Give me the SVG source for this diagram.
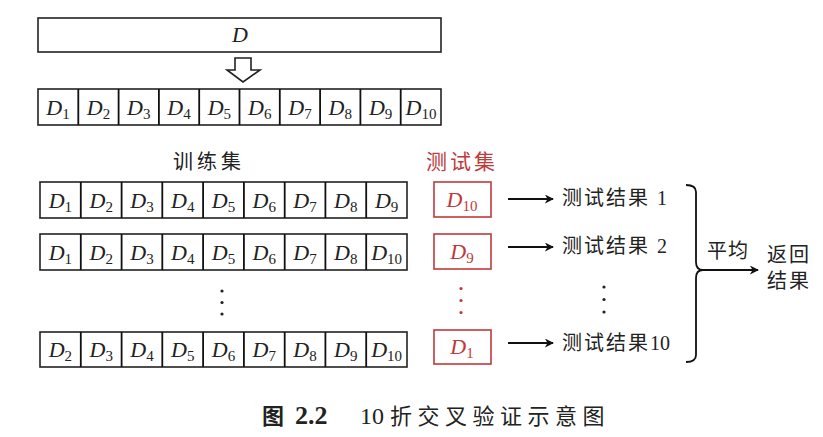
<svg xmlns="http://www.w3.org/2000/svg" width="823" height="437" viewBox="0 0 823 437">
<defs>
<style>
.box{fill:#fff;stroke:#222;stroke-width:1.6}
.rbox{fill:#fff;stroke:#c0393b;stroke-width:1.6}
.m{font-family:"Liberation Serif",serif;font-style:italic;font-size:22px;fill:#222}
.rm{font-family:"Liberation Serif",serif;font-style:italic;font-size:22px;fill:#c0393b}
.s{font-style:normal;font-size:15px}
.cn{font-family:"Liberation Serif","Noto Sans CJK SC",serif;font-size:20px;fill:#222}
.rcn{font-family:"Noto Sans CJK SC",sans-serif;font-size:21px;fill:#c0393b;letter-spacing:3px}
.cap{font-family:"Liberation Serif","Noto Sans CJK SC",serif;fill:#222}
.ln{stroke:#111;stroke-width:1.8;fill:none}
.dot{fill:#222}
.rdot{fill:#c0393b}
</style>
<marker id="ah" viewBox="0 0 10 10" refX="9" refY="5" markerWidth="9" markerHeight="9" markerUnits="userSpaceOnUse" orient="auto">
<path d="M0,0 L10,5 L0,10 L3,5 Z" fill="#111"/>
</marker>
</defs>

<g id="D-whole">
<rect class="box" x="38" y="18" width="403" height="34"/>
<text class="m" x="240" y="42" text-anchor="middle">D</text>
</g>

<g id="split-arrow">
<path d="M235,58 L251,58 L251,70 L260,70 L243,82 L227,70 L235,70 Z" fill="#fff" stroke="#222" stroke-width="1.6"/>
</g>

<g id="row-split">
<rect class="box" x="38" y="89" width="403" height="36"/>
<path class="ln" stroke-width="1.4" d="M78.3,89V125M118.6,89V125M158.9,89V125M199.2,89V125M239.5,89V125M279.8,89V125M320.1,89V125M360.4,89V125M400.7,89V125"/>
<text class="m" x="58" y="115" text-anchor="middle">D<tspan class="s" dy="4">1</tspan></text>
<text class="m" x="98.5" y="115" text-anchor="middle">D<tspan class="s" dy="4">2</tspan></text>
<text class="m" x="138.8" y="115" text-anchor="middle">D<tspan class="s" dy="4">3</tspan></text>
<text class="m" x="179" y="115" text-anchor="middle">D<tspan class="s" dy="4">4</tspan></text>
<text class="m" x="219.4" y="115" text-anchor="middle">D<tspan class="s" dy="4">5</tspan></text>
<text class="m" x="259.7" y="115" text-anchor="middle">D<tspan class="s" dy="4">6</tspan></text>
<text class="m" x="300" y="115" text-anchor="middle">D<tspan class="s" dy="4">7</tspan></text>
<text class="m" x="340.3" y="115" text-anchor="middle">D<tspan class="s" dy="4">8</tspan></text>
<text class="m" x="380.6" y="115" text-anchor="middle">D<tspan class="s" dy="4">9</tspan></text>
<text class="m" x="421" y="115" text-anchor="middle">D<tspan class="s" dy="4">10</tspan></text>
</g>

<g id="label-train">
<text class="cn" x="209" y="169" text-anchor="middle" font-size="19" letter-spacing="4">训练集</text>
</g>
<g id="label-test">
<text class="rcn" x="462" y="169" text-anchor="middle">测试集</text>
</g>

<g id="train-1">
<rect class="box" x="40" y="182" width="367" height="36"/>
<path class="ln" stroke-width="1.4" d="M80.8,182V218M121.6,182V218M162.3,182V218M203.1,182V218M243.9,182V218M284.7,182V218M325.4,182V218M366.2,182V218"/>
<text class="m" x="60.4" y="208" text-anchor="middle">D<tspan class="s" dy="4">1</tspan></text>
<text class="m" x="101.2" y="208" text-anchor="middle">D<tspan class="s" dy="4">2</tspan></text>
<text class="m" x="142" y="208" text-anchor="middle">D<tspan class="s" dy="4">3</tspan></text>
<text class="m" x="182.7" y="208" text-anchor="middle">D<tspan class="s" dy="4">4</tspan></text>
<text class="m" x="223.5" y="208" text-anchor="middle">D<tspan class="s" dy="4">5</tspan></text>
<text class="m" x="264.3" y="208" text-anchor="middle">D<tspan class="s" dy="4">6</tspan></text>
<text class="m" x="305" y="208" text-anchor="middle">D<tspan class="s" dy="4">7</tspan></text>
<text class="m" x="345.8" y="208" text-anchor="middle">D<tspan class="s" dy="4">8</tspan></text>
<text class="m" x="386.6" y="208" text-anchor="middle">D<tspan class="s" dy="4">9</tspan></text>
</g>

<g id="train-2">
<rect class="box" x="40" y="234" width="367" height="36"/>
<path class="ln" stroke-width="1.4" d="M80.8,234V270M121.6,234V270M162.3,234V270M203.1,234V270M243.9,234V270M284.7,234V270M325.4,234V270M366.2,234V270"/>
<text class="m" x="60.4" y="260" text-anchor="middle">D<tspan class="s" dy="4">1</tspan></text>
<text class="m" x="101.2" y="260" text-anchor="middle">D<tspan class="s" dy="4">2</tspan></text>
<text class="m" x="142" y="260" text-anchor="middle">D<tspan class="s" dy="4">3</tspan></text>
<text class="m" x="182.7" y="260" text-anchor="middle">D<tspan class="s" dy="4">4</tspan></text>
<text class="m" x="223.5" y="260" text-anchor="middle">D<tspan class="s" dy="4">5</tspan></text>
<text class="m" x="264.3" y="260" text-anchor="middle">D<tspan class="s" dy="4">6</tspan></text>
<text class="m" x="305" y="260" text-anchor="middle">D<tspan class="s" dy="4">7</tspan></text>
<text class="m" x="345.8" y="260" text-anchor="middle">D<tspan class="s" dy="4">8</tspan></text>
<text class="m" x="386.6" y="260" text-anchor="middle">D<tspan class="s" dy="4">10</tspan></text>
</g>

<g id="train-dots">
<circle class="dot" cx="222" cy="291" r="1.6"/>
<circle class="dot" cx="222" cy="302.5" r="1.6"/>
<circle class="dot" cx="222" cy="314" r="1.6"/>
</g>

<g id="train-10">
<rect class="box" x="40" y="332" width="367" height="35"/>
<path class="ln" stroke-width="1.4" d="M80.8,332V367M121.6,332V367M162.3,332V367M203.1,332V367M243.9,332V367M284.7,332V367M325.4,332V367M366.2,332V367"/>
<text class="m" x="60.4" y="357" text-anchor="middle">D<tspan class="s" dy="4">2</tspan></text>
<text class="m" x="101.2" y="357" text-anchor="middle">D<tspan class="s" dy="4">3</tspan></text>
<text class="m" x="142" y="357" text-anchor="middle">D<tspan class="s" dy="4">4</tspan></text>
<text class="m" x="182.7" y="357" text-anchor="middle">D<tspan class="s" dy="4">5</tspan></text>
<text class="m" x="223.5" y="357" text-anchor="middle">D<tspan class="s" dy="4">6</tspan></text>
<text class="m" x="264.3" y="357" text-anchor="middle">D<tspan class="s" dy="4">7</tspan></text>
<text class="m" x="305" y="357" text-anchor="middle">D<tspan class="s" dy="4">8</tspan></text>
<text class="m" x="345.8" y="357" text-anchor="middle">D<tspan class="s" dy="4">9</tspan></text>
<text class="m" x="386.6" y="357" text-anchor="middle">D<tspan class="s" dy="4">10</tspan></text>
</g>

<g id="test-1">
<rect class="rbox" x="434" y="182" width="57" height="35"/>
<text class="rm" x="462" y="207" text-anchor="middle">D<tspan class="s" dy="4">10</tspan></text>
</g>
<g id="test-2">
<rect class="rbox" x="434" y="234" width="57" height="35"/>
<text class="rm" x="462" y="259" text-anchor="middle">D<tspan class="s" dy="4">9</tspan></text>
</g>
<g id="test-dots">
<circle class="rdot" cx="461" cy="288.5" r="1.6"/>
<circle class="rdot" cx="461" cy="300.5" r="1.6"/>
<circle class="rdot" cx="461" cy="312.5" r="1.6"/>
</g>
<g id="test-10">
<rect class="rbox" x="434" y="330" width="57" height="34"/>
<text class="rm" x="462" y="354" text-anchor="middle">D<tspan class="s" dy="4">1</tspan></text>
</g>

<g id="result-1"><text class="cn" x="562" y="205" letter-spacing="2">测试结果 1</text></g>
<g id="result-2"><text class="cn" x="562" y="253" letter-spacing="2">测试结果 2</text></g>
<g id="result-dots">
<circle class="dot" cx="604" cy="287" r="1.6"/>
<circle class="dot" cx="604" cy="299.5" r="1.6"/>
<circle class="dot" cx="604" cy="312" r="1.6"/>
</g>
<g id="result-10"><text class="cn" x="562" y="350" letter-spacing="2">测试结果<tspan letter-spacing="0">10</tspan></text></g>

<g id="label-avg"><text class="cn" x="707" y="258" letter-spacing="1">平均</text></g>
<g id="final">
<text class="cn" x="767" y="262" letter-spacing="2">返回</text>
<text class="cn" x="767" y="288" letter-spacing="2">结果</text>
</g>

<g id="connectors">
<line class="ln" x1="508" y1="199" x2="553" y2="199" marker-end="url(#ah)"/>
<line class="ln" x1="508" y1="247" x2="553" y2="247" marker-end="url(#ah)"/>
<line class="ln" x1="508" y1="343" x2="553" y2="343" marker-end="url(#ah)"/>
<path class="ln" stroke-width="1.6" d="M686,185 Q696,185 696,192 L696,262 Q696,270 703,270 Q696,270 696,278 L696,355 Q696,362 686,362"/>
<line class="ln" x1="703" y1="270" x2="758" y2="270" marker-end="url(#ah)"/>
</g>

<g id="caption">
<text class="cap" x="262" y="424" font-size="22" font-weight="bold" font-family="'Noto Sans CJK SC',sans-serif">图</text>
<text class="cap" x="295" y="424" font-size="26" font-weight="bold">2.2</text>
<text class="cap" x="360" y="424" font-size="24">10</text>
<text class="cap" x="390" y="424" font-size="22" letter-spacing="5.5">折交叉验证示意图</text>
</g>
</svg>
